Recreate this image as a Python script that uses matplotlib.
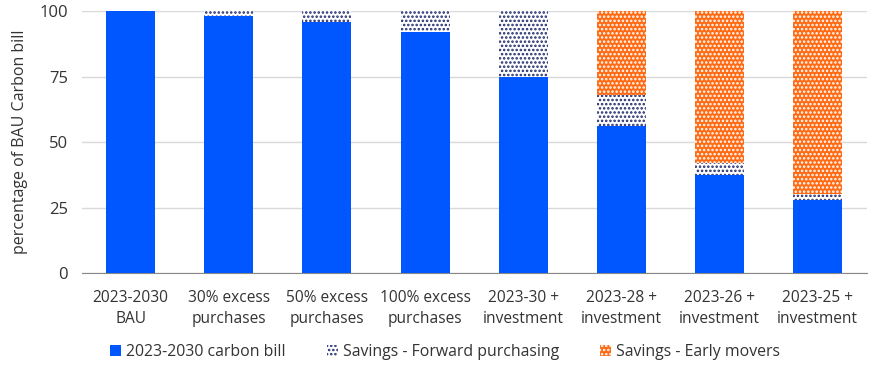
import matplotlib.pyplot as plt
import numpy as np

plt.rcParams['font.family'] = ['Open Sans', 'DejaVu Sans']
plt.rcParams['hatch.linewidth'] = 1.2

categories = ['2023-2030\nBAU', '30% excess\npurchases', '50% excess\npurchases',
              '100% excess\npurchases', '2023-30 +\ninvestment', '2023-28 +\ninvestment',
              '2023-26 +\ninvestment', '2023-25 +\ninvestment']
carbon_bill = [100, 98, 96, 92, 75, 56, 37.5, 28]
forward_savings = [0, 2, 4, 8, 25, 12, 4.5, 2]
early_savings = [0, 0, 0, 0, 0, 32, 58, 70]

blue = '#0057FF'
orange = '#FF6A13'
navy = '#1F2A6B'

fig = plt.figure(figsize=(8.78, 3.70), dpi=100)
ax = fig.add_axes([0.093, 0.262, 0.894, 0.708])

x = np.arange(len(categories))
w = 0.5
ax.bar(x, carbon_bill, w, color=blue, label='2023-2030 carbon bill', zorder=3)
ax.bar(x, forward_savings, w, bottom=carbon_bill, color='white', edgecolor=navy,
       hatch='....', linewidth=0, label='Savings - Forward purchasing', zorder=3)
bottom2 = np.array(carbon_bill) + np.array(forward_savings)
ax.bar(x, early_savings, w, bottom=bottom2, color=orange, edgecolor='white',
       hatch='....', linewidth=0, label='Savings - Early movers', zorder=3)

ax.set_xlim(-0.5, len(categories) - 0.5)
ax.set_ylim(0, 100)
ax.set_yticks([0, 25, 50, 75, 100])
ax.set_xticks(x)
ax.set_xticklabels(categories, fontsize=11.2, color='#333333', linespacing=1.45)
ax.tick_params(axis='y', labelsize=12, colors='#333333', length=0, pad=10)
ax.tick_params(axis='x', length=0, pad=12)
ax.grid(axis='y', color='#d9d9d9', linewidth=1, zorder=0)
for s in ['top', 'right', 'left']:
    ax.spines[s].set_visible(False)
ax.spines['bottom'].set_color('#888888')
ax.set_ylabel('percentage of BAU Carbon bill', fontsize=11.5, color='#333333', labelpad=8)

ax.legend(loc='center', bbox_to_anchor=(0.463, -0.30), ncol=3, frameon=False,
          fontsize=11.4, handlelength=0.7, handleheight=0.7, handletextpad=0.3,
          columnspacing=2.6, labelcolor='#333333')

fig.savefig('out.png', dpi=100)
